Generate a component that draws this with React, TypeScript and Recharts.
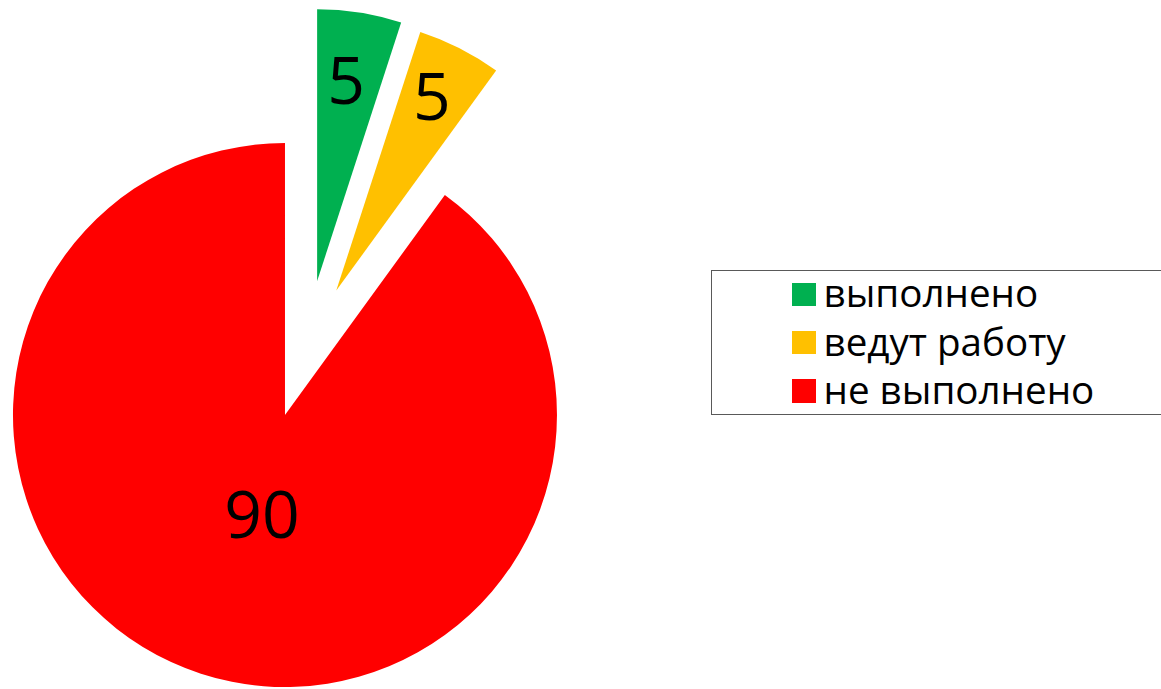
import React from 'react';
import { PieChart, Pie, Cell, Legend } from 'recharts';

// ---- data ----
const categories = ['выполнено', 'ведут работу', 'не выполнено'];
const values = [5, 5, 90];
const colors = ['#00B050', '#FFC000', '#FF0000'];

const data = categories.map((name, i) => ({ name, value: values[i] }));

// ---- layout / style ----
const W = 1161;
const H = 689;
const CENTER_X = 306.3;
const CENTER_Y = 349.4;
const RADIUS = 272;
const START_ANGLE = 90;
const END_ANGLE = -270;
const EXPLODE = [69, 66, 69];
const LABEL_FRAC = [0.747, 0.797, 0.375];
const LABEL_SHIFT = [0.8, 0.8, 5];
const LABEL_FONT = 66;
const FONT = '"Open Sans", "Noto Sans", sans-serif';
const RAD = Math.PI / 180;

const total = values.reduce((a, b) => a + b, 0);
const midAngles = values.map((v, i) => {
  const before = values.slice(0, i).reduce((a, b) => a + b, 0);
  return START_ANGLE + ((END_ANGLE - START_ANGLE) * (before + v / 2)) / total;
});
const pieCenters = midAngles.map((m, i) => ({
  cx: CENTER_X + EXPLODE[i] * Math.cos(-m * RAD),
  cy: CENTER_Y + EXPLODE[i] * Math.sin(-m * RAD),
}));

const makeLabel = (k: number) => (props: any) => {
  if (props.index !== k) return null;
  const { cx, cy, midAngle, outerRadius, value } = props;
  const r = outerRadius * LABEL_FRAC[k];
  const a = midAngle + LABEL_SHIFT[k];
  const x = cx + r * Math.cos(-a * RAD);
  const y = cy + r * Math.sin(-a * RAD);
  return (
    <text
      x={x}
      y={y + LABEL_FONT * 0.357}
      textAnchor="middle"
      fill="#000000"
      fontFamily={FONT}
      fontSize={LABEL_FONT}
    >
      {value}
    </text>
  );
};

const renderLegend = (props: any) => {
  const payload = props.payload || [];
  const seen: string[] = [];
  payload.forEach((e: any) => {
    const v = String(e.value);
    if (!seen.includes(v)) seen.push(v);
  });
  const items = seen
    .filter((v) => categories.includes(v))
    .sort((a, b) => categories.indexOf(a) - categories.indexOf(b));
  return (
    <div
      style={{
        position: 'relative',
        width: 455,
        height: 145,
        border: '1.5px solid #595959',
        background: '#fff',
        boxSizing: 'border-box',
        fontFamily: FONT,
      }}
    >
      {items.map((name: string, i: number) => (
        <div
          key={name}
          style={{
            position: 'absolute',
            left: 0,
            top: -2.7 + i * 48.5,
            height: 48.5,
            width: 440,
          }}
        >
          <div
            style={{
              position: 'absolute',
              left: 80.2,
              top: 14.2,
              width: 23.5,
              height: 23.5,
              background: colors[categories.indexOf(name)],
            }}
          />
          <span
            style={{
              position: 'absolute',
              left: 111.5,
              top: 0,
              fontSize: 38.6,
              lineHeight: '48.5px',
              color: '#000',
              whiteSpace: 'nowrap',
            }}
          >
            {name}
          </span>
        </div>
      ))}
    </div>
  );
};

export default function App() {
  return (
    <div
      style={{
        position: 'absolute',
        left: 0,
        top: 0,
        width: W,
        height: H,
        overflow: 'hidden',
        background: '#fff',
      }}
    >
      <PieChart width={W} height={H} margin={{ top: 0, right: 0, bottom: 0, left: 0 }}>
        {[0, 1, 2].map((k) => (
          <Pie
            key={k}
            data={data}
            dataKey="value"
            nameKey="name"
            cx={pieCenters[k].cx}
            cy={pieCenters[k].cy}
            innerRadius={0}
            outerRadius={RADIUS}
            startAngle={START_ANGLE}
            endAngle={END_ANGLE}
            stroke="none"
            isAnimationActive={false}
            labelLine={false}
            label={makeLabel(k)}
            legendType={k === 2 ? 'square' : 'none'}
          >
            {data.map((_, i) => (
              <Cell key={i} fill={i === k ? colors[i] : 'transparent'} stroke="none" />
            ))}
          </Pie>
        ))}
        <Legend
          layout="vertical"
          align="center"
          verticalAlign="middle"
          content={renderLegend}
          wrapperStyle={{ left: 711, top: 270, width: 455, height: 145 }}
        />
      </PieChart>
    </div>
  );
}
